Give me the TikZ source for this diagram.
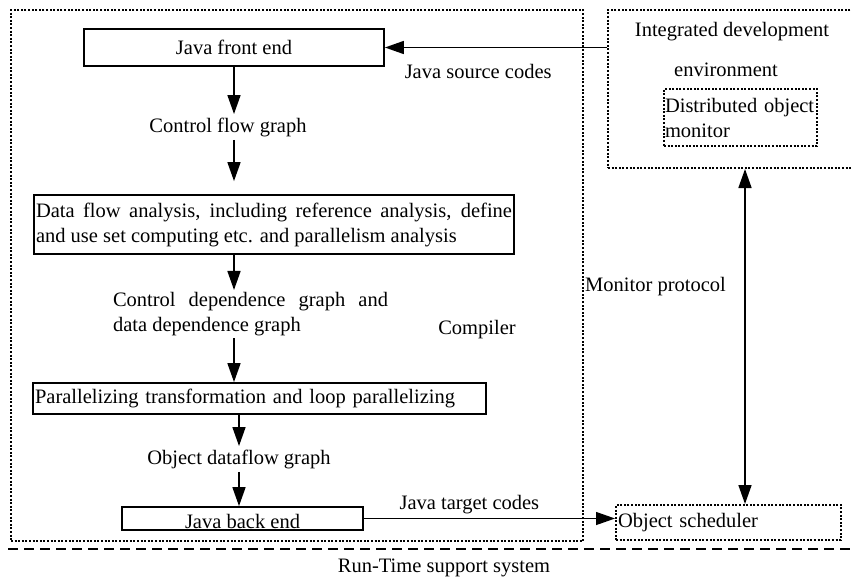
\documentclass[tikz,border=0pt]{standalone}
\usepackage{fontspec}
\setmainfont{Liberation Serif}
\usetikzlibrary{arrows.meta}

\begin{document}
\begin{tikzpicture}[x=1pt, y=-1pt, font=\fontsize{20.5}{25}\selectfont, >={Triangle[length=19pt, width=13pt]}, block/.style={rectangle, draw, line width=1.8pt, inner sep=2pt}, dotbox/.style={rectangle, draw, line width=2pt, dash pattern=on 2pt off 1.6pt}, flow/.style={->, line width=1.6pt}]
  {
  \useasboundingbox (0,0) rectangle (851,581);
  \clip (0,0) rectangle (851,581);
  % the two large areas
  \node[dotbox, anchor=north west, minimum width=572, minimum height=531] (compiler) at (10,9) {};
  \node[dotbox, anchor=north west, minimum width=260, minimum height=158] (ide) at (607,9) {};
  \node (idename) at (732,32) {Integrated development};
  \node (idename2) at (726,70) {environment};
  \node[dotbox, anchor=north west, text width=151, align=left, inner sep=1pt, minimum height=57] (monitor) at (663,88) {Distributed object\\monitor};

  % compiler stages
  \node[block, minimum width=300, minimum height=37] (front) at (234,47.5) {Java front end};
  \node (cfg) at (228,127) {Control flow graph};
  \node[block, text width=476, align=justify, minimum height=59] (dfa) at (274,224.5) {Data flow analysis, including reference analysis, define\linebreak and use set computing etc. and parallelism analysis};
  \node[text width=275, align=justify, inner sep=2pt] (cdg) at (250.5,314) {Control dependence graph and\linebreak data dependence graph};
  \node (compname) at (477,330) {Compiler};
  \node[block, text width=449, align=left, minimum height=31] (par) at (259.5,398.5) {Parallelizing transformation and loop parallelizing};
  \node (odg) at (239,459) {Object dataflow graph};
  \node[block, minimum width=241, minimum height=23, inner ysep=0pt, text height=21pt, text depth=2pt] (back) at (242.5,518.5) {Java back end};
  \node[dotbox, text width=221, align=left, inner sep=2pt, minimum height=35] (sched) at (728.5,522.5) {Object scheduler};
  \coordinate (proto) at (745,330);
  \node[anchor=west, inner sep=0pt] (protoname) at (585,287) {Monitor protocol};

  \draw[flow] (ide.west |- front.east) -- node[pos=0.58, below=13pt] (srcname) {Java source codes} (front.east);
  \draw[flow] (front.south) -- (cfg.north -| front);
  \draw[flow, shorten >=13pt] (cfg.south -| front) -- (dfa.north -| front);
  \draw[flow] (dfa.south -| front) -- (cdg.north -| front);
  \draw[flow] (cdg.south -| front) -- (par.north -| front);
  \draw[flow] (par.south -| odg) -- (odg.north);
  \draw[flow] (odg.south) -- (back.north -| odg);
  \draw[flow, line width=1.3pt] (back.east) -- node[pos=0.42, above=1pt] (tgtname) {Java target codes} (back.east -| sched.west);
  \draw[flow, <->] (ide.south -| proto) -- (sched.north -| proto);

  % run-time system border
  \draw[line width=2pt, dash pattern=on 10pt off 6pt] (8,549) -- (851,549);
  \node (rtname) at (444,568) {Run-Time support system};
}
\end{tikzpicture}
\end{document}
